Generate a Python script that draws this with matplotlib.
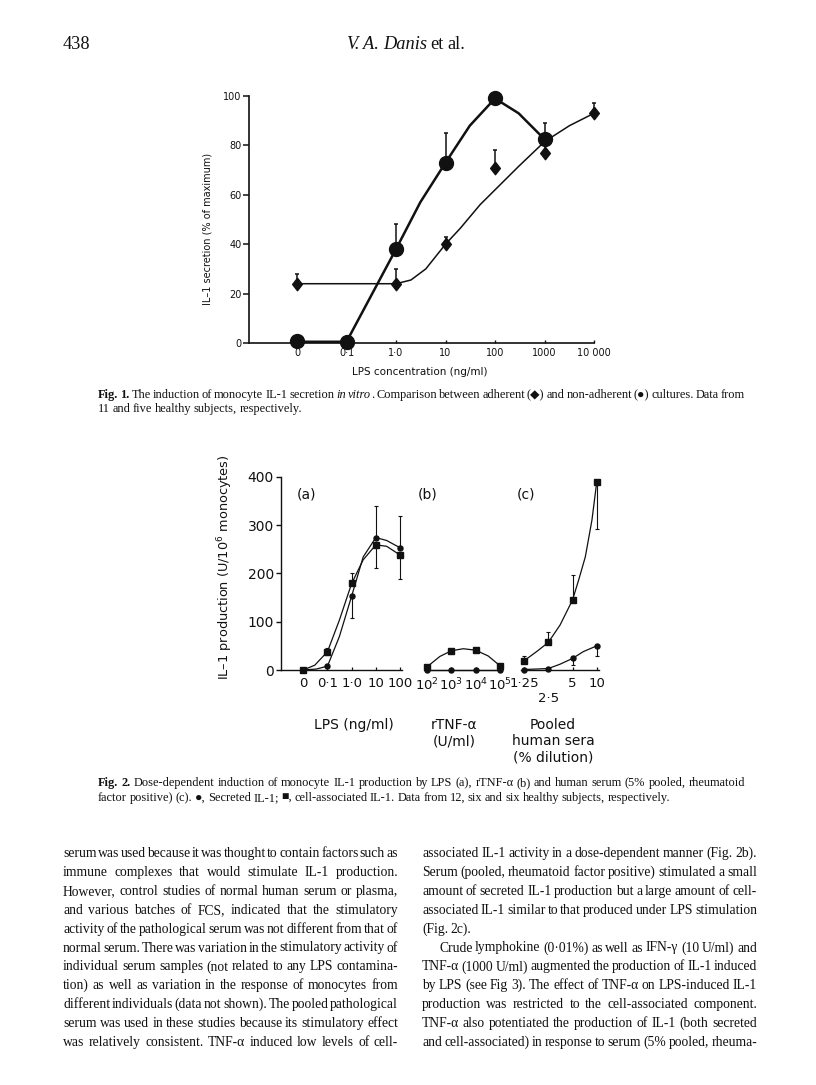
"""
Page 438 of V. A. Danis et al. -- two dose-response figures with captions
and the two columns of body text underneath, laid out like the scan.
"""

import numpy as np
import matplotlib
matplotlib.use("Agg")
import matplotlib.pyplot as plt
import matplotlib.ticker as mticker

# ── Page geometry (pixels of the 816 x 1085 scan) ─────────────────────────────

W, H = 816, 1085
INK = "#111111"
SANS = "DejaVu Sans"
SERIF = ["Liberation Serif", "DejaVu Sans"]

# ── Fig. 1 data: IL-1 secretion (% of maximum) vs LPS (ng/ml) ────────────────
# the zero-dose control sits one decade below 0.1, where the "0" tick is

F1_TICKS = [0.01, 0.1, 1, 10, 100, 1000, 10000]
F1_TICK_LABELS = ["0", "0·1", "1·0", "10", "100", "1000", "10 000"]

nonadh_dose = [0.01, 0.1, 1, 10, 100, 1000]
nonadh_val = [0.7, 0.5, 38, 73, 99, 82.5]
nonadh_err = [0, 0, 10, 12, 0, 6.5]

adh_dose = [0.01, 1, 10, 100, 1000, 10000]
adh_val = [24, 24, 40, 71, 77, 93]
adh_err = [4, 6, 3, 7, 6, 4]

# fitted curves
nonadh_fit_dose = [0.01, 0.1, 1, 3.1, 10, 31, 100, 300, 1000]
nonadh_fit_val = [0.5, 0.5, 38, 57, 73, 88, 99, 93, 82.5]
adh_fit_dose = [0.01, 1, 2, 4, 10, 20, 50, 100, 300, 1000, 3200, 10000]
adh_fit_val = [24, 24, 25.5, 30, 40, 46.5, 56, 62, 71.5, 81.5, 88, 93]

# ── Fig. 2 data: IL-1 production (U/10^6 monocytes) ──────────────────────────

# (a) LPS, ng/ml
A_TICKS = [0.01, 0.1, 1, 10, 100]
A_TICK_LABELS = ["0", "0·1", "1·0", "10", "100"]
a_dose = [0.01, 0.1, 1, 10, 100]
a_sec = [0, 8, 153, 274, 253]
a_sec_lo = [0, 0, 46, 0, 0]
a_sec_up = [0, 0, 0, 65, 66]
a_cell = [0, 38, 179, 259, 238]
a_cell_lo = [0, 7, 0, 47, 50]
a_cell_up = [0, 7, 22, 0, 0]
a_sec_fit_dose = [0.01, 0.035, 0.1, 0.31, 1, 3, 10, 28, 100]
a_sec_fit_val = [0, 2, 8, 69, 153, 234, 274, 268, 253]
a_cell_fit_dose = [0.01, 0.03, 0.1, 0.31, 1, 3, 10, 28, 100]
a_cell_fit_val = [0, 10, 38, 103, 179, 228, 259, 256, 238]

# (b) rTNF-alpha, U/ml
B_TICKS = [1e2, 1e3, 1e4, 1e5]
B_TICK_LABELS = ["10$^2$", "10$^3$", "10$^4$", "10$^5$"]
b_dose = [1e2, 1e3, 1e4, 1e5]
b_sec = [1, 1, 1, 1]
b_cell = [7, 40, 41, 9]
b_cell_fit_dose = [1e2, 3.3e2, 1e3, 3.1e3, 1e4, 3.3e4, 1e5]
b_cell_fit_val = [7, 28, 40, 44, 41, 29, 9]

# (c) pooled human sera, % dilution
C_TICKS = [1.25, 2.5, 5, 10]
C_TICK_LABELS = ["1·25", "\n2·5", "5", "10"]
c_dose = [1.25, 2.5, 5, 10]
c_sec = [1, 3, 24, 50]
c_sec_lo = [0, 0, 14, 21]
c_sec_up = [0, 0, 0, 0]
c_cell = [19, 57, 145, 390]
c_cell_lo = [0, 0, 0, 99]
c_cell_up = [10, 22, 52, 0]
c_sec_fit_dose = [1.25, 2.5, 3.5, 5, 6.8, 10]
c_sec_fit_val = [1, 3, 12, 24, 38, 50]
c_cell_fit_dose = [1.25, 1.79, 2.5, 3.5, 5, 5.95, 7.2, 8.7, 10]
c_cell_fit_val = [19, 38, 57, 93, 145, 186, 234, 310, 390]

# ── Text ──────────────────────────────────────────────────────────────────────
# ~ toggles italic, # toggles bold

HEADER = "~V. A. Danis~ et al."
PAGE_NO = "438"

CAPTION_1 = [
    "#Fig. 1.# The induction of monocyte IL-1 secretion ~in vitro~. Comparison "
    "between adherent (◆) and non-adherent (●) cultures. Data from",
    "11 and five healthy subjects, respectively.",
]
CAPTION_2 = [
    "#Fig. 2.# Dose-dependent induction of monocyte IL-1 production by LPS (a), "
    "rTNF-α (b) and human serum (5% pooled, rheumatoid",
    "factor positive) (c). ●, Secreted IL-1; ■, cell-associated IL-1. Data from "
    "12, six and six healthy subjects, respectively.",
]

LEFT_COL = [
    "serum was used because it was thought to contain factors such as",
    "immune complexes that would stimulate IL-1 production.",
    "However, control studies of normal human serum or plasma,",
    "and various batches of FCS, indicated that the stimulatory",
    "activity of the pathological serum was not different from that of",
    "normal serum. There was variation in the stimulatory activity of",
    "individual serum samples (not related to any LPS contamina-",
    "tion) as well as variation in the response of monocytes from",
    "different individuals (data not shown). The pooled pathological",
    "serum was used in these studies because its stimulatory effect",
    "was relatively consistent. TNF-α induced low levels of cell-",
]
RIGHT_COL = [
    "associated IL-1 activity in a dose-dependent manner (Fig. 2b).",
    "Serum (pooled, rheumatoid factor positive) stimulated a small",
    "amount of secreted IL-1 production but a large amount of cell-",
    "associated IL-1 similar to that produced under LPS stimulation",
    "(Fig. 2c).",
    "Crude lymphokine (0·01%) as well as IFN-γ (10 U/ml) and",
    "TNF-α (1000 U/ml) augmented the production of IL-1 induced",
    "by LPS (see Fig 3). The effect of TNF-α on LPS-induced IL-1",
    "production was restricted to the cell-associated component.",
    "TNF-α also potentiated the production of IL-1 (both secreted",
    "and cell-associated) in response to serum (5% pooled, rheuma-",
]
RIGHT_RAGGED = {4}      # paragraph end, not justified
RIGHT_INDENT = {5: 17}  # paragraph start

fig = plt.figure(figsize=(W / 100, H / 100), dpi=100)
fig.patch.set_facecolor("white")
renderer = fig.canvas.get_renderer()


def fpos(px, py):
    return px / W, 1 - py / H


# ── Typesetting helpers ───────────────────────────────────────────────────────

def parse(line):
    """Split a line into words; each word is a list of (text, italic, bold) runs."""
    words, cur, run, ital, bold = [], [], "", False, False
    for ch in line:
        if ch in "~#":
            if run:
                cur.append((run, ital, bold))
                run = ""
            if ch == "~":
                ital = not ital
            else:
                bold = not bold
        elif ch == " ":
            if run:
                cur.append((run, ital, bold))
                run = ""
            if cur:
                words.append(cur)
                cur = []
        else:
            run += ch
    if run:
        cur.append((run, ital, bold))
    if cur:
        words.append(cur)
    return words


_wcache = {}


def run_width(text, size, ital=False, bold=False):
    key = (text, size, ital, bold)
    if key not in _wcache:
        t = fig.text(0, 0, text, fontsize=size, family=SERIF,
                     style="italic" if ital else "normal",
                     weight="bold" if bold else "normal")
        _wcache[key] = t.get_window_extent(renderer).width
        t.remove()
    return _wcache[key]


def space_width(size):
    return run_width("n n", size) - run_width("nn", size)


def tight_width(line, size, squeeze=0.45):
    # width with word spaces squeezed to a fraction of their normal size
    words = parse(line)
    total = sum(run_width(r[0], size, r[1], r[2]) for w in words for r in w)
    return total + squeeze * space_width(size) * (len(words) - 1)


def set_line(line, x0, x1, y, size, justify=True):
    words = parse(line)
    widths = [[run_width(r[0], size, r[1], r[2]) for r in w] for w in words]
    total = sum(sum(ws) for ws in widths)
    if justify and len(words) > 1:
        gap = (x1 - x0 - total) / (len(words) - 1)
    else:
        gap = 0.8 * space_width(size)
    x = x0
    for word, ws in zip(words, widths):
        for (txt, it, bd), w in zip(word, ws):
            fig.text(*fpos(x, y), txt, fontsize=size, family=SERIF,
                     style="italic" if it else "normal",
                     weight="bold" if bd else "normal",
                     ha="left", va="baseline", color=INK)
            x += w
        x += gap


def fit_size(lines, width, ref=10.0, squeeze=0.45):
    return ref * width / max(tight_width(l, ref, squeeze) for l in lines)


def error_bars(ax, x, y, lo, up, cap, lw):
    x, y, lo, up = (np.asarray(v, float) for v in (x, y, lo, up))
    m = (lo > 0) | (up > 0)
    ax.vlines(x[m], (y - lo)[m], (y + up)[m], color=INK, lw=lw,
              zorder=2, clip_on=False)
    for end, e in ((y + up, up), (y - lo, lo)):
        k = e > 0
        ax.plot(x[k], end[k], ls="none", marker="_", ms=cap, mew=lw,
                color=INK, zorder=2, clip_on=False)


# ── Header ────────────────────────────────────────────────────────────────────

hsize = fit_size([HEADER], 119, squeeze=0.8)
set_line(HEADER, 346, 465, 49, hsize, justify=False)
set_line(PAGE_NO, 63, 90, 49, hsize, justify=False)

# ── Fig. 1 ────────────────────────────────────────────────────────────────────

ax1 = fig.add_axes([249 / W, 1 - 343 / H, (594 - 249) / W, (343 - 96) / H])
ax1.set_xscale("log")
ax1.set_xlim(10 ** -2.97, 1e4)
ax1.set_ylim(0, 100)
ax1.patch.set_visible(False)
for s in ("top", "right"):
    ax1.spines[s].set_visible(False)
for s in ("left", "bottom"):
    ax1.spines[s].set_linewidth(1.2)
    ax1.spines[s].set_color(INK)
ax1.set_xticks(F1_TICKS, F1_TICK_LABELS)
ax1.xaxis.set_minor_locator(mticker.NullLocator())
ax1.set_yticks([0, 20, 40, 60, 80, 100])
ax1.tick_params(axis="y", direction="out", length=4, width=1.1, pad=1.5,
                labelsize=7, colors=INK)
ax1.tick_params(axis="x", direction="in", length=2.5, width=1.0, pad=3.5,
                labelsize=7, colors=INK)

ax1.plot(nonadh_fit_dose, nonadh_fit_val, color=INK, lw=1.8, zorder=3,
         clip_on=False, solid_joinstyle="round")
ax1.plot(adh_fit_dose, adh_fit_val, color=INK, lw=1.1, zorder=3,
         clip_on=False, solid_joinstyle="round")
error_bars(ax1, nonadh_dose, nonadh_val, [0] * 6, nonadh_err, 3.5, 1.1)
error_bars(ax1, adh_dose, adh_val, [0] * 6, adh_err, 3.5, 1.1)
ax1.plot(nonadh_dose, nonadh_val, ls="none", marker="o", ms=10, color=INK,
         zorder=5, clip_on=False)
diamond = [(0, 1), (0.78, 0), (0, -1), (-0.78, 0), (0, 1)]
ax1.plot(adh_dose, adh_val, ls="none", marker=diamond, ms=9, color=INK,
         zorder=5, clip_on=False)

fig.text(*fpos(208, 229), "IL–1 secretion (% of maximum)", rotation=90,
         ha="center", va="center", fontsize=7, family=SANS, color=INK)
fig.text(*fpos(420, 372), "LPS concentration (ng/ml)", ha="center",
         va="center", fontsize=7.5, family=SANS, color=INK)

csize = fit_size(CAPTION_1[:1] + CAPTION_2[:1], 647, squeeze=0.65)
set_line(CAPTION_1[0], 98, 745, 398, csize)
set_line(CAPTION_1[1], 98, 745, 412, csize, justify=False)

# ── Fig. 2 ────────────────────────────────────────────────────────────────────

Y0, Y400 = 670, 476.7


def panel(left, right, xlim, base):
    ax = fig.add_axes([left / W, 1 - Y0 / H, (right - left) / W,
                       (Y0 - Y400) / H])
    ax.set_xscale("log", base=base)
    ax.set_xlim(*xlim)
    ax.set_ylim(0, 400)
    ax.patch.set_visible(False)
    for s in ("top", "right", "left"):
        ax.spines[s].set_visible(False)
    ax.spines["bottom"].set_linewidth(1.0)
    ax.spines["bottom"].set_color(INK)
    ax.xaxis.set_minor_locator(mticker.NullLocator())
    ax.set_yticks([])
    ax.tick_params(axis="x", direction="in", length=2.5, width=0.9, pad=5,
                   labelsize=9.5, colors=INK)
    return ax


axa = panel(280.7, 401.7, (10 ** -2.934, 10 ** 2.07), 10)
axb = panel(425, 502.3, (10 ** 1.905, 10 ** 5.1), 10)
axc = panel(521, 598.5, (1.25 * 2 ** -0.124, 1.25 * 2 ** 3.07), 2)

axa.spines["left"].set_visible(True)
axa.spines["left"].set_linewidth(1.0)
axa.spines["left"].set_color(INK)
axa.set_yticks([0, 100, 200, 300, 400])
axa.tick_params(axis="y", direction="out", length=3.5, width=1.0, pad=1.5,
                labelsize=10, colors=INK)

axa.set_xticks(A_TICKS, A_TICK_LABELS)
axa.xaxis.set_minor_locator(mticker.NullLocator())
axb.set_xticks(B_TICKS, B_TICK_LABELS)
axb.xaxis.set_minor_locator(mticker.NullLocator())
axc.set_xticks(C_TICKS, C_TICK_LABELS)
axc.xaxis.set_minor_locator(mticker.NullLocator())

LW2, SQ, CI = 0.9, 4.4, 3.6
for ax, sfd, sfv, cfd, cfv in (
        (axa, a_sec_fit_dose, a_sec_fit_val, a_cell_fit_dose, a_cell_fit_val),
        (axc, c_sec_fit_dose, c_sec_fit_val, c_cell_fit_dose, c_cell_fit_val)):
    ax.plot(sfd, sfv, color=INK, lw=LW2, zorder=3, clip_on=False)
    ax.plot(cfd, cfv, color=INK, lw=LW2, zorder=3, clip_on=False)

axb.plot(b_dose, b_sec, color=INK, lw=LW2, zorder=3, clip_on=False)
axb.plot(b_cell_fit_dose, b_cell_fit_val, color=INK, lw=LW2, zorder=3,
         clip_on=False)

error_bars(axa, a_dose, a_sec, a_sec_lo, a_sec_up, 3, 0.8)
error_bars(axa, a_dose, a_cell, a_cell_lo, a_cell_up, 3, 0.8)
error_bars(axc, c_dose, c_sec, c_sec_lo, c_sec_up, 3, 0.8)
error_bars(axc, c_dose, c_cell, c_cell_lo, c_cell_up, 3, 0.8)

for ax, d, sec, cell in ((axa, a_dose, a_sec, a_cell),
                         (axb, b_dose, b_sec, b_cell),
                         (axc, c_dose, c_sec, c_cell)):
    ax.plot(d, sec, ls="none", marker="o", ms=CI, color=INK, zorder=5,
            clip_on=False)
    ax.plot(d, cell, ls="none", marker="s", ms=SQ, color=INK, zorder=6,
            clip_on=False)

for label, x in (("(a)", 306.7), ("(b)", 427.5), ("(c)", 525.7)):
    fig.text(*fpos(x, 495), label, ha="center", va="center", fontsize=10,
             family=SANS, color=INK)

fig.text(*fpos(225, 567), "IL–1 production (U/10$^6$ monocytes)",
         rotation=90, ha="center", va="center", fontsize=9.3, family=SANS,
         color=INK)
for label, x in (("LPS (ng/ml)", 354), ("rTNF-α\n(U/ml)", 454),
                 ("Pooled\nhuman sera\n(% dilution)", 553)):
    fig.text(*fpos(x, 718), label, ha="center", va="top", fontsize=10,
             family=SANS, color=INK, linespacing=1.2, multialignment="center")

set_line(CAPTION_2[0], 98, 745, 786, csize)
set_line(CAPTION_2[1], 98, 745, 801, csize, justify=False)

# ── Body text, two justified columns ──────────────────────────────────────────

bsize = fit_size(LEFT_COL + RIGHT_COL, 335)
for i, line in enumerate(LEFT_COL):
    set_line(line, 63, 398, 857 + 18.9 * i, bsize)
for i, line in enumerate(RIGHT_COL):
    set_line(line, 422 + RIGHT_INDENT.get(i, 0), 757, 857 + 18.9 * i, bsize,
             justify=i not in RIGHT_RAGGED)

fig.savefig("out.png", dpi=100, facecolor="white")
